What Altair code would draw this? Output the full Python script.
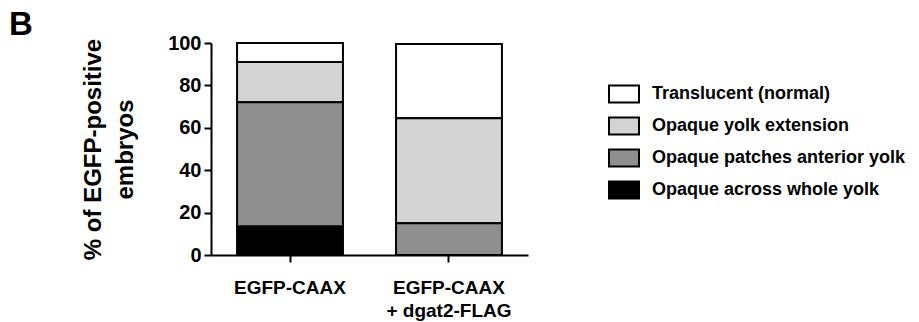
import altair as alt
import pandas as pd

categories = ["EGFP-CAAX", "EGFP-CAAX|+ dgat2-FLAG"]
classes = ["Translucent (normal)", "Opaque yolk extension",
           "Opaque patches anterior yolk", "Opaque across whole yolk"]
class_colors = ["#ffffff", "#d4d4d4", "#8f8f8f", "#000000"]
stack_rank = [3, 2, 1, 0]
values_caax = [9, 19, 58.5, 13.5]
values_dgat = [35, 49.5, 15, 0]
y_ticks = [0, 20, 40, 60, 80, 100]

rows = []
for cat, vals in zip(categories, [values_caax, values_dgat]):
    for cls, v, r in zip(classes, vals, stack_rank):
        rows.append({"group": cat, "cls": cls, "value": v, "rank": r})
df = pd.DataFrame(rows)

FONT = "Liberation Sans"

rect_sym = "M-1,-0.567H1V0.567H-1Z"

bars = alt.Chart(df).transform_filter("datum.value > 0").mark_bar(
    stroke="black", strokeWidth=2
).encode(
    x=alt.X("group:N", sort=categories,
            scale=alt.Scale(paddingInner=0.334, paddingOuter=0.164),
            axis=alt.Axis(title=None, labelAngle=0,
                          labelExpr="split(datum.label, '|')",
                          labelFont=FONT, labelFontWeight="bold", labelFontSize=19,
                          labelColor="black", labelLineHeight=23,
                          labelPadding=16, tickSize=7, tickWidth=2, tickColor="black",
                          domainColor="black", domainWidth=2, labelBaseline="top")),
    y=alt.Y("value:Q", stack="zero",
            scale=alt.Scale(domain=[0, 100], nice=False),
            axis=alt.Axis(title=["% of EGFP-positive", "embryos"], values=y_ticks,
                          grid=False, titleFont=FONT, titleFontWeight="bold",
                          titleFontSize=24, titleColor="black", titlePadding=30,
                          titleLineHeight=32,
                          labelFont=FONT, labelFontWeight="bold", labelFontSize=20,
                          labelColor="black", labelPadding=3, tickSize=7, tickWidth=2,
                          tickColor="black", domainColor="black", domainWidth=2)),
    color=alt.Color("cls:N",
                    scale=alt.Scale(domain=classes, range=class_colors),
                    legend=alt.Legend(title=None, orient="none", legendX=397, legendY=35,
                                      symbolType=rect_sym, symbolSize=900,
                                      symbolStrokeColor="black", symbolStrokeWidth=2,
                                      labelFont=FONT, labelFontWeight="bold",
                                      labelFontSize=18, labelColor="black",
                                      labelOffset=12, rowPadding=3, padding=0,
                                      labelLimit=400)),
    order=alt.Order("rank:Q", sort="ascending"),
)

letter = alt.Chart(pd.DataFrame({"t": ["B"]})).mark_text(
    font=FONT, fontWeight="bold", fontSize=33, align="left", baseline="top",
    color="black"
).encode(text="t:N", x=alt.value(-202), y=alt.value(-34))

chart = alt.layer(bars, letter).properties(
    width=317, height=212,
    autosize=alt.AutoSizeParams(type="none"),
    padding={"left": 203, "top": 35, "right": 383, "bottom": 68},
).configure_view(stroke=None)

chart.save("out.html", embed_options={"renderer": "svg", "actions": False})
